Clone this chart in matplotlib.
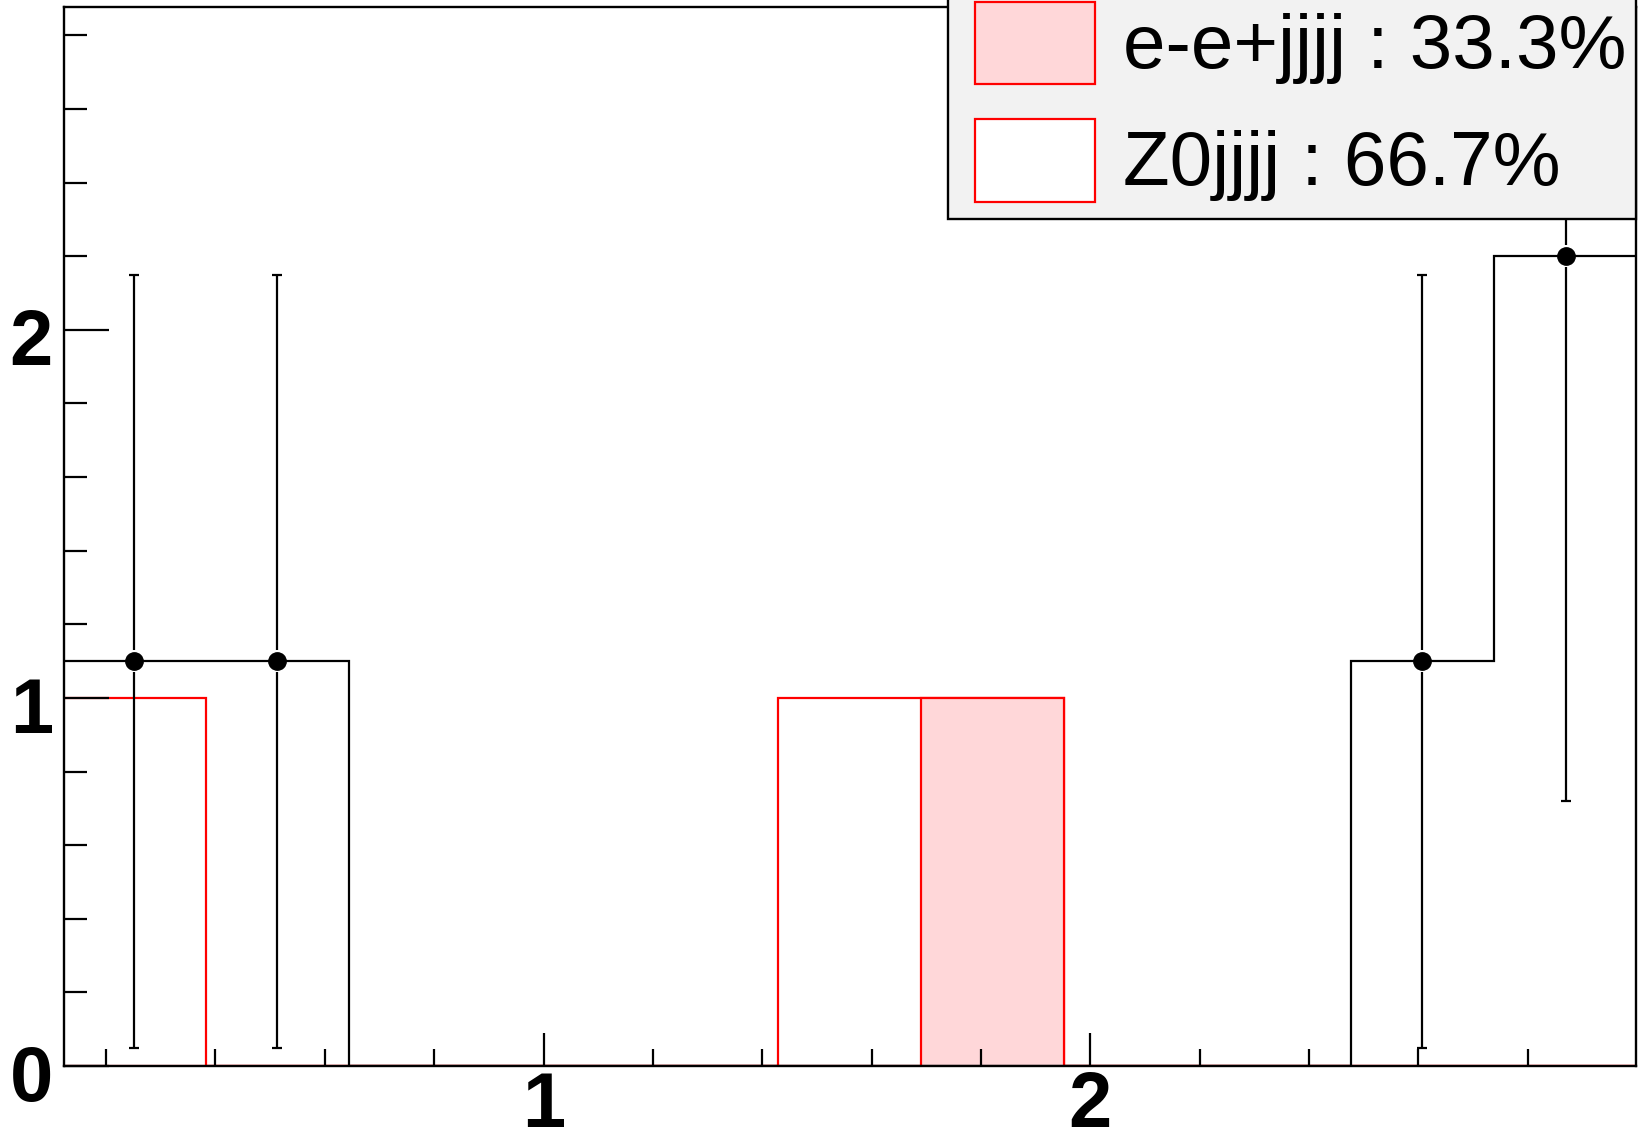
import numpy as np
import matplotlib
matplotlib.use("Agg")
import matplotlib.pyplot as plt
from matplotlib.patches import Rectangle
from matplotlib.ticker import FixedLocator, NullFormatter, FixedFormatter
import matplotlib.transforms as mtransforms

# ---------------- data ----------------
x_min, x_max = 0.12, 3.0
n_bins = 11
data_counts = [1.1, 1.1, 0, 0, 0, 0, 0, 0, 0, 1.1, 2.2]
data_errors = [1.05, 1.05, 0, 0, 0, 0, 0, 0, 0, 1.05, 1.48]
ee_counts = [0, 0, 0, 0, 0, 0, 1, 0, 0, 0, 0]      # e-e+jjjj
z0_counts = [1, 0, 0, 0, 0, 1, 0, 0, 0, 0, 0]      # Z0jjjj
legend_labels = ["e-e+jjjj : 33.3%", "Z0jjjj : 66.7%"]
x_major = [1, 2]
x_major_labels = ["1", "2"]
x_minor = [0.2, 0.4, 0.6, 0.8, 1.2, 1.4, 1.6, 1.8, 2.2, 2.4, 2.6, 2.8]
y_major = [0, 1, 2]
y_major_labels = ["0", "1", "2"]
y_minor = [0.2, 0.4, 0.6, 0.8, 1.2, 1.4, 1.6, 1.8, 2.2, 2.4, 2.6, 2.8]
y_top = 2.877

# ---------------- figure ----------------
W, H = 1639, 1143
DPI = 100
fig = plt.figure(figsize=(W / DPI, H / DPI), dpi=DPI)
fig.patch.set_facecolor("white")

ax_l, ax_r, ax_t, ax_b = 64, 1636, 7, 1066
ax = fig.add_axes([ax_l / W, 1 - ax_b / H, (ax_r - ax_l) / W, (ax_b - ax_t) / H])

edges = np.linspace(x_min, x_max, n_bins + 1)
centers = 0.5 * (edges[:-1] + edges[1:])
data = np.array(data_counts, float)
derr = np.array(data_errors, float)
ee = np.array(ee_counts, float)
z0 = np.array(z0_counts, float)

LW = 1.6
pink = "#ffd7d9"
# stacked histograms (cumulative drawn first)
ax.stairs(ee + z0, edges, fill=True, facecolor="white", edgecolor="red",
          linewidth=LW, zorder=1.0)
ax.stairs(ee, edges, fill=True, facecolor=pink, edgecolor="red",
          linewidth=LW, zorder=1.1)

# data histogram
ax.stairs(data, edges, color="black", linewidth=LW, zorder=1.2)
m = data > 0
ax.errorbar(centers[m], data[m], yerr=derr[m], fmt="none", ecolor="black",
            elinewidth=LW, capsize=3.6, capthick=LW, zorder=1.3)
gap = 0.03
ax.vlines(centers[m], data[m] - gap, data[m] + gap, colors="white",
          linewidth=3, zorder=1.35)
ax.plot(centers[m], data[m], "o", color="black", markersize=12.5, zorder=1.4)

ax.set_xlim(0.123, 2.998)
ax.set_ylim(0, y_top)
ax.set_axisbelow(False)

for s in ax.spines.values():
    s.set_linewidth(1.7)
    s.set_color("black")

ax.xaxis.set_major_locator(FixedLocator(x_major))
ax.xaxis.set_major_formatter(FixedFormatter(x_major_labels))
ax.xaxis.set_minor_locator(FixedLocator(x_minor))
ax.xaxis.set_minor_formatter(NullFormatter())
ax.yaxis.set_major_locator(FixedLocator(y_major))
ax.yaxis.set_major_formatter(FixedFormatter(y_major_labels))
ax.yaxis.set_minor_locator(FixedLocator(y_minor))
ax.yaxis.set_minor_formatter(NullFormatter())

ax.tick_params(axis="x", which="major", direction="in", length=23.8, width=1.6,
               pad=3)
ax.tick_params(axis="x", which="minor", direction="in", length=11.9, width=1.6)
ax.tick_params(axis="y", which="major", direction="in", length=32.4, width=1.6,
               pad=8)
ax.tick_params(axis="y", which="minor", direction="in", length=16.3, width=1.6)

tick_font = dict(family="Liberation Sans", weight="bold", size=56)
for lab in ax.get_xticklabels() + ax.get_yticklabels():
    lab.set_fontfamily(tick_font["family"])
    lab.set_fontweight(tick_font["weight"])
    lab.set_fontsize(tick_font["size"])

# shift y tick labels slightly downward, as in the ROOT original
y_shift = mtransforms.ScaledTranslation(0, -7 / DPI, fig.dpi_scale_trans)
for lab in ax.get_yticklabels():
    lab.set_transform(lab.get_transform() + y_shift)

# ---------------- legend (ROOT style box) ----------------
def fx(px):
    return px / W

def fy(py):
    return 1 - py / H

leg_l, leg_r, leg_t, leg_b = 948, 1636, -40, 219
fig.add_artist(Rectangle((fx(leg_l), fy(leg_b)), fx(leg_r) - fx(leg_l),
                         fy(leg_t) - fy(leg_b), transform=fig.transFigure,
                         facecolor="#f2f2f2", edgecolor="black", linewidth=1.7,
                         zorder=5))
entries = [
    (pink, 2, 84, 68),
    ("white", 119, 202, 185),
]
for (fc, top, bot, base), label in zip(entries, legend_labels):
    fig.add_artist(Rectangle((fx(975), fy(bot)), fx(1095) - fx(975),
                             fy(top) - fy(bot), transform=fig.transFigure,
                             facecolor=fc, edgecolor="red", linewidth=1.6,
                             zorder=6))
    fig.text(fx(1123), fy(base), label, ha="left", va="baseline",
             family="Liberation Sans", size=55, color="black", zorder=7)

fig.savefig("out.png", dpi=DPI)
